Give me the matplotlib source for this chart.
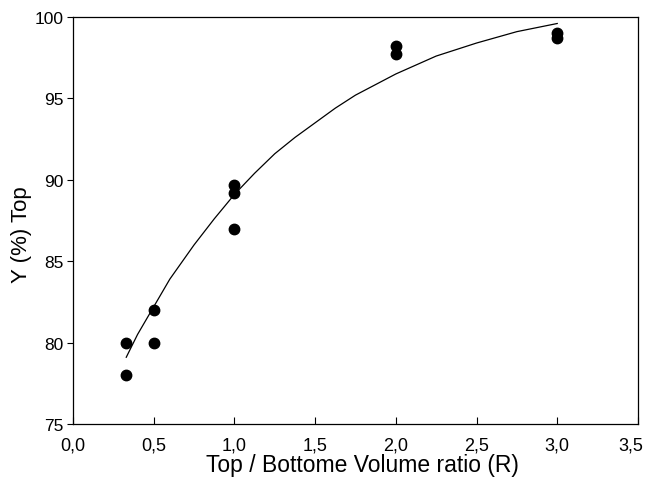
import numpy as np
import matplotlib
matplotlib.use("Agg")
import matplotlib.pyplot as plt
from matplotlib.transforms import ScaledTranslation

# measured points (R, Y %)
r_pts = [0.33, 0.33, 0.5, 0.5, 1.0, 1.0, 1.0, 2.0, 2.0, 3.0, 3.0]
y_pts = [80.0, 78.0, 82.0, 80.0, 89.7, 89.2, 87.0, 98.2, 97.7, 99.0, 98.7]

# fitted curve
r_fit = [0.33, 0.4, 0.5, 0.6, 0.75, 0.875, 1.0, 1.125, 1.25, 1.375, 1.5,
         1.625, 1.75, 2.0, 2.25, 2.5, 2.75, 3.0]
y_fit = [79.1, 80.5, 82.2, 83.9, 86.0, 87.6, 89.1, 90.4, 91.6, 92.6, 93.5,
         94.4, 95.2, 96.5, 97.6, 98.4, 99.1, 99.6]

x_ticks = [0.0, 0.5, 1.0, 1.5, 2.0, 2.5, 3.0, 3.5]
y_ticks = [75, 80, 85, 90, 95, 100]

plt.rcParams["font.family"] = ["Liberation Sans", "DejaVu Sans"]

fig = plt.figure(figsize=(6.47, 4.81), dpi=100)
ax = fig.add_axes([0.1128, 0.1164, 0.8732, 0.8462])

ax.plot(r_fit, y_fit, color="black", lw=0.9)
ax.plot(r_pts, y_pts, "o", color="black", ms=7.5, mec="black")

ax.set_xlim(0, 3.5)
ax.set_ylim(75, 100)
ax.set_xticks(x_ticks)
ax.set_xticklabels([f"{v:.1f}".replace(".", ",") for v in x_ticks])
ax.set_yticks(y_ticks)
ax.set_yticklabels([str(v) for v in y_ticks])

ax.tick_params(axis="x", direction="in", length=5, width=0.8, labelsize=13, pad=9)
ax.tick_params(axis="y", direction="out", length=4, width=0.8, labelsize=12.5, pad=3)
for s in ax.spines.values():
    s.set_linewidth(0.9)

# last x label is nudged left so it stays inside the figure
last = ax.get_xticklabels()[-1]
last.set_transform(last.get_transform() + ScaledTranslation(-0.07, 0, fig.dpi_scale_trans))

ax.set_xlabel("Top / Bottome Volume ratio (R)", fontsize=16.5)
ax.set_ylabel("Y (%) Top", fontsize=16)
ax.xaxis.set_label_coords(0.513, -0.072)
ax.yaxis.set_label_coords(-0.073, 0.467)

fig.savefig("out.png", dpi=100)
